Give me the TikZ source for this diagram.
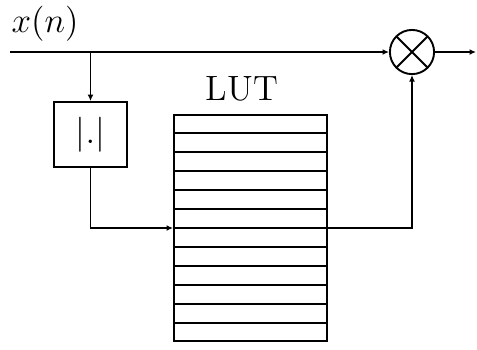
\documentclass[tikz,border=0pt]{standalone}
\usetikzlibrary{arrows.meta,calc}
\begin{document}
\begin{tikzpicture}[x=0.012cm,y=-0.012cm, line width=0.65pt, font=\large,
  arr/.style={-{Latex[length=2.2pt,width=2pt]}},
  blk/.style={draw, minimum width=0.876cm, minimum height=0.78cm, inner sep=0pt},
  lutbox/.style={draw, minimum width=1.836cm, minimum height=2.712cm, inner sep=0pt},
  mult/.style={draw, circle, minimum size=0.53cm, inner sep=0pt,
    path picture={\draw (path picture bounding box.north west)--(path picture bounding box.south east)
      (path picture bounding box.north east)--(path picture bounding box.south west);}}]
\useasboundingbox (0,0) rectangle (477,349);
\coordinate (in) at (10,52);
\coordinate (br) at (90.5,52);
\node[mult] (m) at (412,52) {};
\coordinate (out) at (476,52);
\node[blk] (abs) at (90.5,134.5) {$|.|$};
\node[lutbox] (lut) at (250.5,228) {};
\foreach \i in {1,...,11}
  \draw ($(lut.north west)!\i/12!(lut.south west)$) -- ($(lut.north east)!\i/12!(lut.south east)$);
\node (lbl) at (242,89) {LUT};
\node (xn) at (45,24) {$x(n)$};
\draw[arr] (in) -- (m);
\draw[arr] (br) -- (abs.north);
\draw[arr] (m) -- (out);
\draw[arr] (abs.south) |- (lut.west);
\draw[arr] (lut.east) -| (m.south);
\end{tikzpicture}
\end{document}
